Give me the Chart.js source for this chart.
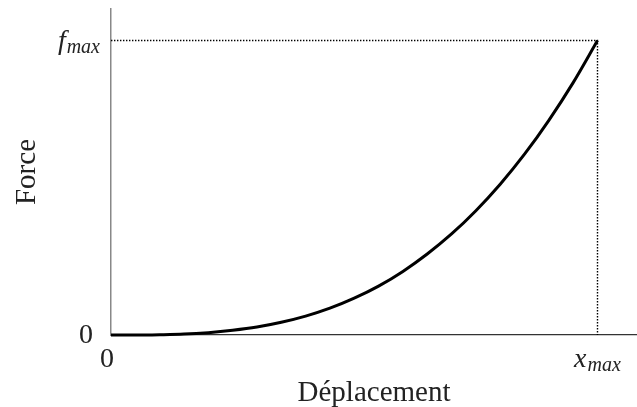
<!DOCTYPE html>
<html>
<head>
<meta charset="utf-8">
<script src="https://cdn.jsdelivr.net/npm/chart.js@4.4.1/dist/chart.umd.min.js"></script>
<style>
  html, body { margin: 0; padding: 0; background: #fff; }
  #wrap { width: 637px; height: 407px; }
</style>
</head>
<body>
<div id="wrap"><canvas id="chart"></canvas></div>
<script>
// courbe force / déplacement, valeurs normalisées (x / x_max, f / f_max)
const displacement = [0, 0.05, 0.10, 0.15, 0.20, 0.25, 0.30, 0.35, 0.40, 0.45, 0.50,
                      0.55, 0.60, 0.65, 0.70, 0.75, 0.80, 0.85, 0.90, 0.95, 1.00];
const force = [0, 0.000, 0.001, 0.003, 0.008, 0.016, 0.027, 0.043, 0.064, 0.091, 0.125,
               0.166, 0.216, 0.275, 0.343, 0.422, 0.512, 0.614, 0.729, 0.857, 1.000];

// repères pointillés jusqu'au point (x_max, f_max)
const xMax = 1;
const fMax = 1;
const guideX = [0, xMax, xMax];
const guideY = [fMax, fMax, 0];

// graduations : [valeur, texte, indice]
const xTicks = [[0, '0', ''], [xMax, 'x', 'max']];
const yTicks = [[0, '0', ''], [fMax, 'f', 'max']];

const xTitle = 'Déplacement';
const yTitle = 'Force';

const SERIF = '"Liberation Serif", "DejaVu Serif", serif';

function drawLabel(ctx, x, y, base, sub, align) {
  const italic = sub !== '';
  const mainFont = (italic ? 'italic ' : '') + '28px ' + SERIF;
  const subFont = 'italic 20px ' + SERIF;
  ctx.font = mainFont;
  const wMain = ctx.measureText(base).width;
  ctx.font = subFont;
  const wSub = sub ? ctx.measureText(sub).width + 1 : 0;
  const total = wMain + wSub;
  let left = align === 'right' ? x - total : x - total / 2;
  ctx.textAlign = 'left';
  ctx.textBaseline = 'alphabetic';
  ctx.font = mainFont;
  ctx.fillText(base, left, y);
  if (sub) {
    ctx.font = subFont;
    ctx.fillText(sub, left + wMain + 1, y + 4);
  }
}

const labelsPlugin = {
  id: 'mathLabels',
  afterDraw(chart) {
    const { ctx, scales: { x, y }, chartArea } = chart;
    ctx.save();
    ctx.fillStyle = '#222';
    yTicks.forEach(([v, base, sub]) => {
      const py = y.getPixelForValue(v);
      const pad = sub ? 11 : 18;
      drawLabel(ctx, chartArea.left - pad, py + 8, base, sub, 'right');
    });
    xTicks.forEach(([v, base, sub]) => {
      const px = x.getPixelForValue(v) - (sub ? 0 : 4);
      drawLabel(ctx, px, chartArea.bottom + 32, base, sub, 'center');
    });

    ctx.font = '29px ' + SERIF;
    ctx.textAlign = 'center';
    ctx.textBaseline = 'alphabetic';
    ctx.fillText(xTitle, (chartArea.left + chartArea.right) / 2, 401);

    ctx.translate(35, (chartArea.top + chartArea.bottom) / 2);
    ctx.rotate(-Math.PI / 2);
    ctx.fillText(yTitle, 0, 0);
    ctx.restore();
  }
};

new Chart(document.getElementById('chart'), {
  type: 'scatter',
  data: {
    datasets: [
      {
        data: displacement.map((d, i) => ({ x: d, y: force[i] })),
        showLine: true,
        borderColor: '#000',
        borderWidth: 3,
        pointRadius: 0,
        cubicInterpolationMode: 'monotone',
        clip: 6
      },
      {
        data: guideX.map((d, i) => ({ x: d, y: guideY[i] })),
        showLine: true,
        borderColor: '#000',
        borderWidth: 1.4,
        borderDash: [1.4, 1.6],
        pointRadius: 0
      }
    ]
  },
  options: {
    responsive: true,
    maintainAspectRatio: false,
    animation: false,
    layout: { padding: { left: 111, top: 9, right: 0, bottom: 72 } },
    plugins: { legend: { display: false }, tooltip: { enabled: false } },
    scales: {
      x: {
        type: 'linear', min: 0, max: 1.0812,
        grid: { display: false },
        ticks: { display: false },
        border: { display: true, color: '#333', width: 1.2 },
        afterFit: (s) => { s.height = 0; }
      },
      y: {
        type: 'linear', min: 0, max: 1.107,
        grid: { display: false },
        ticks: { display: false },
        border: { display: true, color: '#888', width: 1.5 },
        afterFit: (s) => { s.width = 0; }
      }
    }
  },
  plugins: [labelsPlugin]
});
</script>
</body>
</html>
